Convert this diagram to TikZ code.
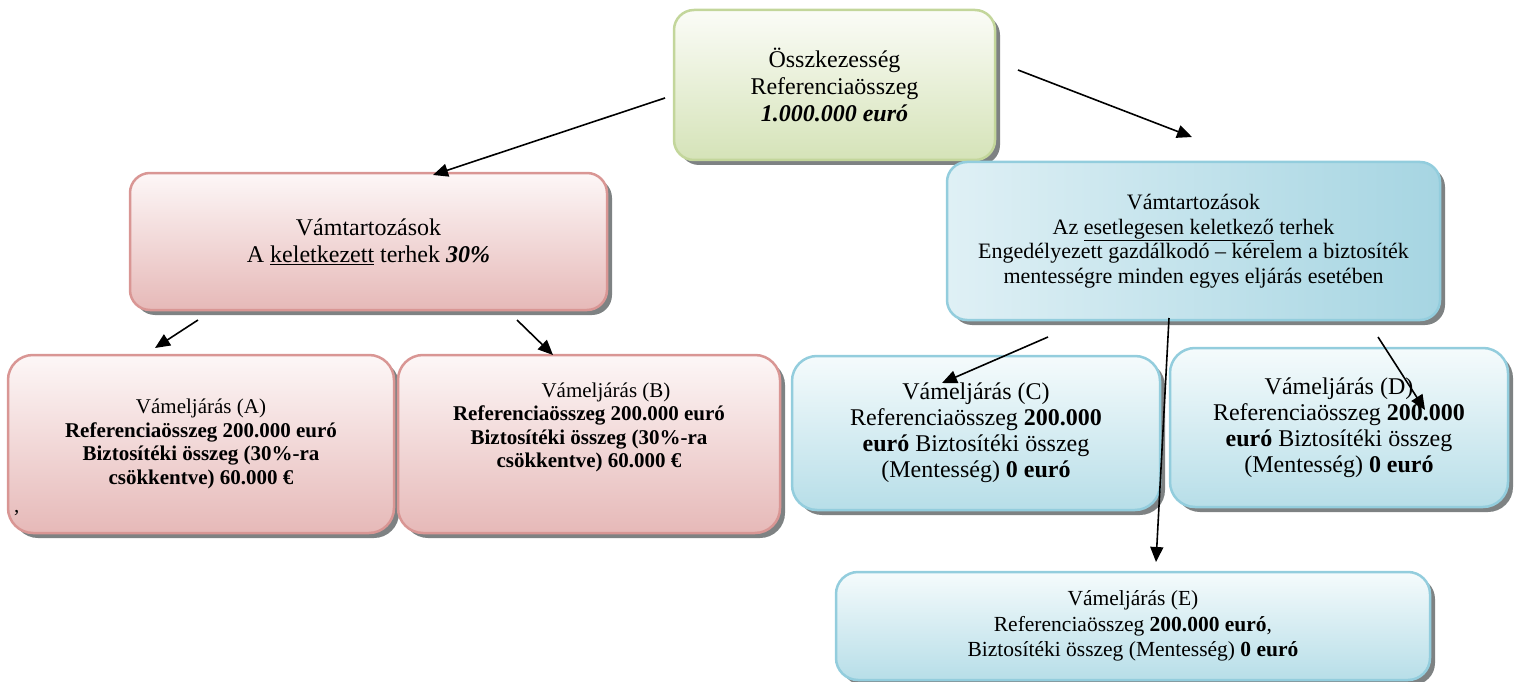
\documentclass[tikz,border=0pt]{standalone}
\usepackage{fontspec}
\setmainfont{Liberation Serif}
\usetikzlibrary{arrows.meta,shadows}
\definecolor{gbord}{HTML}{C3D69B}
\definecolor{gtop}{HTML}{FBFCF7}
\definecolor{gbot}{HTML}{D5E3B8}
\definecolor{rbord}{HTML}{D99694}
\definecolor{rtop}{HTML}{FDF7F7}
\definecolor{rbot}{HTML}{E6B9B8}
\definecolor{bbord}{HTML}{93CDDD}
\definecolor{btop}{HTML}{F5FBFC}
\definecolor{bbot}{HTML}{B7DEE8}
\definecolor{bleft}{HTML}{DFF0F5}
\definecolor{bright}{HTML}{A6D5E2}
\definecolor{shgray}{HTML}{7E8283}
\tikzset{
  box/.style={rectangle, draw, line width=2.5pt, align=center, inner sep=0pt,
    drop shadow={shadow xshift=5pt, shadow yshift=-5pt, fill=shgray, opacity=1}},
  greenbox/.style={box, draw=gbord, top color=gtop, bottom color=gbot, rounded corners=20pt},
  redbox/.style={box, draw=rbord, top color=rtop, bottom color=rbot},
  bluebox/.style={box, draw=bbord, top color=btop, bottom color=bbot},
  bigblue/.style={box, draw=bbord, left color=bleft, right color=bright, rounded corners=20pt},
  arr/.style={line width=1.6pt, -{Triangle[length=15pt,width=13pt]}},
  fa/.style={font=\fontsize{24}{27}\selectfont},
  fb/.style={font=\fontsize{22}{24.5}\selectfont},
  fc/.style={font=\fontsize{21}{23.5}\selectfont},
  fd/.style={font=\fontsize{24}{26}\selectfont},
  fe/.style={font=\fontsize{21.5}{25.5}\selectfont}
}
\begin{document}
\begin{tikzpicture}[x=1pt,y=-1pt]
\useasboundingbox (0,0) rectangle (1526,682);

\node[greenbox, fa, minimum width=321pt, minimum height=150pt] (top) at (834.5,85)
  {Összkezesség\\Referenciaösszeg\\\textbf{\textit{1.000.000 euró}}};

\node[redbox, fa, rounded corners=20pt, minimum width=477pt, minimum height=137pt] (red) at (368.5,241.5)
  {Vámtartozások\\A \underline{keletkezett} terhek \textbf{\textit{30\%}}};

\node[bigblue, fb, minimum width=493pt, minimum height=158pt] (blue) at (1193.5,241)
  {Vámtartozások\\Az \underline{esetlegesen keletkező} terhek\\Engedélyezett gazdálkodó – kérelem a biztosíték\\mentességre minden egyes eljárás esetében};

\node[redbox, fc, rounded corners=25pt, minimum width=386pt, minimum height=178pt] (A) at (201,444)
  {Vámeljárás (A)\\\textbf{Referenciaösszeg 200.000 euró}\\\textbf{Biztosítéki összeg (30\%-ra}\\\textbf{csökkentve) 60.000 €}};
\node[fc, anchor=base west, inner sep=0pt] (comma) at (14,512) {,};

\node[redbox, fc, rounded corners=25pt, minimum width=382pt, minimum height=178pt] (B) at (589,444)
  {\hspace*{34pt}Vámeljárás (B)\\\textbf{Referenciaösszeg 200.000 euró}\\\textbf{Biztosítéki összeg (30\%-ra}\\\textbf{csökkentve) 60.000 €}\\[14pt]~};

\node[bluebox, fd, rounded corners=25pt, minimum width=368pt, minimum height=154pt] (C) at (976,433)
  {Vámeljárás (C)\\Referenciaösszeg \textbf{200.000}\\\textbf{euró} Biztosítéki összeg\\(Mentesség) \textbf{0 euró}};

\node[bluebox, fd, rounded corners=25pt, minimum width=338pt, minimum height=159pt] (D) at (1339,427.5)
  {Vámeljárás (D)\\Referenciaösszeg \textbf{200.000}\\\textbf{euró} Biztosítéki összeg\\(Mentesség) \textbf{0 euró}};

\node[bluebox, fe, rounded corners=22pt, minimum width=594pt, minimum height=108pt] (E) at (1133,626)
  {Vámeljárás (E)\\Referenciaösszeg \textbf{200.000 euró},\\Biztosítéki összeg (Mentesség) \textbf{0 euró}};

\coordinate (s1) at (665,98);   \coordinate (t1) at (433,175);
\coordinate (s2) at (1018,70);  \coordinate (t2) at (1192,137);
\coordinate (s3) at (198,320);  \coordinate (t3) at (155,348);
\coordinate (s4) at (517,320);  \coordinate (t4) at (553,355);
\coordinate (s5) at (1048,337); \coordinate (t5) at (942,383);
\coordinate (s6) at (1169,318); \coordinate (t6) at (1156,562);
\coordinate (s7) at (1378,337); \coordinate (t7) at (1425,410);

\draw[arr] (s1) -- (t1);
\draw[arr] (s2) -- (t2);
\draw[arr] (s3) -- (t3);
\draw[arr] (s4) -- (t4);
\draw[arr] (s5) -- (t5);
\draw[arr] (s6) -- (t6);
\draw[arr] (s7) -- (t7);
\end{tikzpicture}
\end{document}
